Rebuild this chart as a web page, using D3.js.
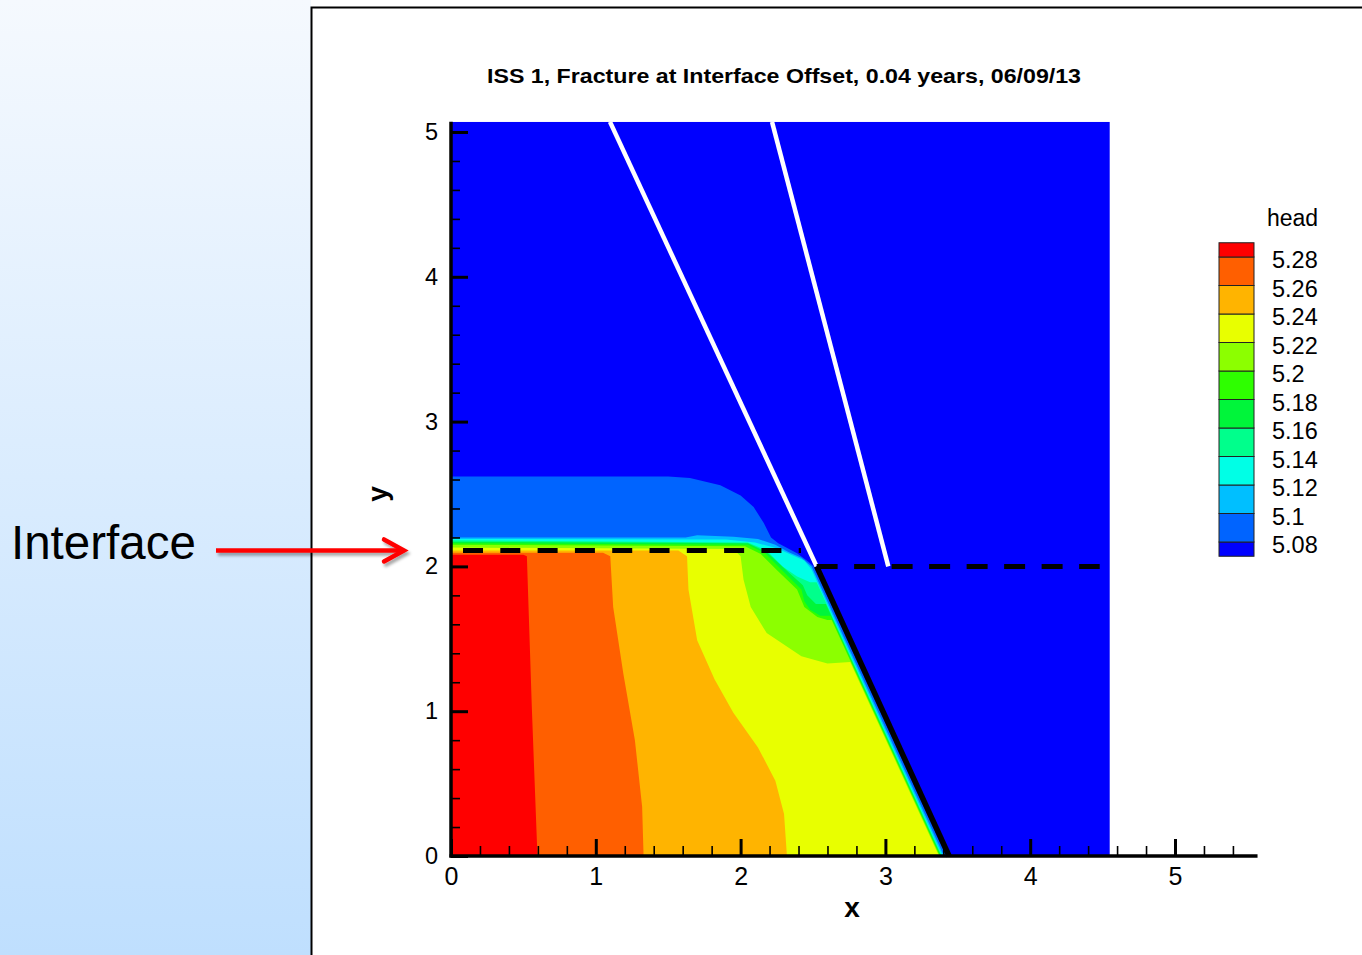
<!DOCTYPE html>
<html>
<head>
<meta charset="utf-8">
<script src="https://cdn.jsdelivr.net/npm/d3@7"></script>
<style>
  html, body { margin: 0; padding: 0; background: #fff; }
  svg { display: block; font-family: "Liberation Sans", Arial, Helvetica, sans-serif; }
</style>
</head>
<body>
<div id="chart"></div>
<script>
const WIDTH = 1362;
const HEIGHT = 955;

// contour levels of head and the fill colours (COLORS[0] is below the first level)
const LEVELS = [5.08, 5.1, 5.12, 5.14, 5.16, 5.18, 5.2, 5.22, 5.24, 5.26, 5.28];
const COLORS = ['#0000ff', '#0064ff', '#00bfff', '#00ffe6', '#00ff8c', '#00f53a',
                '#2eff00', '#8cff00', '#e8ff00', '#ffb400', '#ff5f00', '#ff0000'];

const X_TICKS = [0, 1, 2, 3, 4, 5];
const Y_TICKS = [0, 1, 2, 3, 4, 5];

// model domain (x, y in model units)
const DOMAIN_X = [0, 4.55];
const DOMAIN_Y = [0, 5.07];

// regions where head >= level
const HEAD_508 = [[0,0],[3.42,0],[2.505,2.0],[2.47,2.03],[2.39,2.09],[2.26,2.16],[2.21,2.2],[2.16,2.3],
                  [2.09,2.41],[2.0,2.49],[1.86,2.56],[1.65,2.61],[1.5,2.62],[0,2.62]];
const HEAD_510 = [[0,0],[3.405,0],[2.49,2.0],[2.42,2.06],[2.33,2.1],[2.24,2.15],[2.12,2.19],[1.95,2.205],
                  [1.7,2.215],[1.62,2.2],[0,2.2]];
const HEAD_512 = [[0,0],[3.395,0],[2.489,1.98],[2.44,2.04],[2.35,2.08],[2.25,2.125],[2.1,2.165],[1.9,2.185],[0,2.19]];
const HEAD_514 = [[0,0],[3.39,0],[2.525,1.89],[2.48,1.89],[2.39,1.93],[2.29,2.0],[2.18,2.11],[2.05,2.165],[0,2.18]];
const HEAD_516 = [[0,0],[3.385,0],[2.589,1.74],[2.52,1.74],[2.46,1.8],[2.43,1.87],[2.32,1.97],[2.18,2.1],
                  [2.05,2.16],[0,2.17]];
const HEAD_518 = [[0,0],[3.38,0],[2.621,1.66],[2.55,1.66],[2.48,1.7],[2.44,1.76],[2.42,1.84],[2.3,1.96],
                  [2.17,2.09],[2.05,2.15],[0,2.16]];
const HEAD_520 = [[0,0],[3.375,0],[2.629,1.63],[2.6,1.63],[2.53,1.65],[2.44,1.72],[2.39,1.84],[2.25,1.975],
                  [2.14,2.085],[2.03,2.14],[0,2.15]];
const HEAD_522 = [[0,0],[3.37,0],[2.757,1.34],[2.6,1.33],[2.42,1.38],[2.18,1.54],[2.07,1.72],[2.02,1.91],
                  [2.0,2.07],[1.95,2.12],[0,2.13]];
const HEAD_524 = [[0,0],[2.32,0],[2.3,0.29],[2.24,0.52],[2.12,0.75],[1.95,0.99],[1.82,1.22],[1.7,1.49],
                  [1.64,1.84],[1.63,2.07],[1.57,2.11],[0,2.11]];
const HEAD_526 = [[0,0],[1.33,0],[1.32,0.34],[1.27,0.8],[1.19,1.26],[1.12,1.72],[1.1,2.07],[1.05,2.095],[0,2.095]];
const HEAD_528 = [[0,0],[0.597,0],[0.558,1.03],[0.524,2.07],[0.5,2.08],[0,2.08]];

const BANDS = [HEAD_508, HEAD_510, HEAD_512, HEAD_514, HEAD_516, HEAD_518,
               HEAD_520, HEAD_522, HEAD_524, HEAD_526, HEAD_528];

// lines
const FRACTURE = [[2.525, 2.0], [3.44, 0]];
const FAULT_A = [[1.098, 5.07], [2.525, 2.0]];
const FAULT_B = [[2.217, 5.07], [3.02, 2.0]];
const INTERFACE_LEFT = [[0.083, 2.11], [2.417, 2.11]];
const INTERFACE_RIGHT = [[2.525, 2.0], [4.48, 2.0]];

const svg = d3.select('#chart')
  .append('svg')
  .attr('width', WIDTH)
  .attr('height', HEIGHT);

const defs = svg.append('defs');

const grad = defs.append('linearGradient')
  .attr('id', 'panel')
  .attr('x1', 0).attr('y1', 0).attr('x2', 0).attr('y2', 1);
grad.append('stop').attr('offset', '0%').attr('stop-color', '#f5f9fe');
grad.append('stop').attr('offset', '100%').attr('stop-color', '#bfdffe');

defs.append('filter')
  .attr('id', 'shadow')
  .attr('x', '-10%').attr('y', '-50%').attr('width', '130%').attr('height', '250%')
  .append('feDropShadow')
  .attr('dx', 2).attr('dy', 3).attr('stdDeviation', 1.5)
  .attr('flood-color', '#000').attr('flood-opacity', 0.35);

// left slide panel and frame
svg.append('rect')
  .attr('x', 0).attr('y', 0)
  .attr('width', 311).attr('height', HEIGHT)
  .attr('fill', 'url(#panel)');

svg.append('path')
  .attr('d', 'M311.5,' + HEIGHT + 'V7.5H' + WIDTH)
  .attr('fill', 'none')
  .attr('stroke', '#000')
  .attr('stroke-width', 2);

// scales (equal aspect)
const x = d3.scaleLinear().domain([0, 5]).range([451, 1175]);
const y = d3.scaleLinear().domain([0, 5]).range([856, 132]);

// "Interface" annotation
svg.append('text')
  .attr('x', 11).attr('y', 559)
  .attr('font-size', 47.5)
  .attr('fill', '#000')
  .text('Interface');

const arrowY = y(INTERFACE_LEFT[0][1]);
const arrow = svg.append('g')
  .attr('filter', 'url(#shadow)')
  .attr('fill', 'none')
  .attr('stroke', '#ff0000')
  .attr('stroke-width', 4.5);
arrow.append('line')
  .attr('x1', 216).attr('x2', 402)
  .attr('y1', arrowY).attr('y2', arrowY);
arrow.append('path')
  .attr('d', 'M384,' + (arrowY - 11) + 'L404,' + arrowY + 'L384,' + (arrowY + 11))
  .attr('stroke-linecap', 'round')
  .attr('stroke-linejoin', 'miter');

// title
svg.append('text')
  .attr('x', 784).attr('y', 83)
  .attr('text-anchor', 'middle')
  .attr('font-size', 20.5)
  .attr('font-weight', 'bold')
  .attr('textLength', 594)
  .attr('lengthAdjust', 'spacingAndGlyphs')
  .text('ISS 1, Fracture at Interface Offset, 0.04 years, 06/09/13');

// plot area
defs.append('clipPath')
  .attr('id', 'domain')
  .append('rect')
  .attr('x', x(DOMAIN_X[0])).attr('y', y(DOMAIN_Y[1]))
  .attr('width', x(DOMAIN_X[1]) - x(DOMAIN_X[0]))
  .attr('height', y(DOMAIN_Y[0]) - y(DOMAIN_Y[1]));

const plot = svg.append('g').attr('clip-path', 'url(#domain)');

plot.append('rect')
  .attr('x', x(DOMAIN_X[0])).attr('y', y(DOMAIN_Y[1]))
  .attr('width', x(DOMAIN_X[1]) - x(DOMAIN_X[0]))
  .attr('height', y(DOMAIN_Y[0]) - y(DOMAIN_Y[1]))
  .attr('fill', COLORS[0]);

const line = d3.line().x(d => x(d[0])).y(d => y(d[1]));

plot.selectAll('path.band')
  .data(BANDS)
  .enter()
  .append('path')
  .attr('class', 'band')
  .attr('d', d => line(d) + 'Z')
  .attr('fill', (d, i) => COLORS[i + 1]);

// faults (white), interface (dashed), fracture (black)
plot.selectAll('path.fault')
  .data([FAULT_A, FAULT_B])
  .enter()
  .append('path')
  .attr('class', 'fault')
  .attr('d', line)
  .attr('stroke', '#fff')
  .attr('stroke-width', 4.5)
  .attr('fill', 'none');

svg.append('path')
  .attr('d', line(INTERFACE_LEFT))
  .attr('stroke', '#000')
  .attr('stroke-width', 5)
  .attr('stroke-dasharray', '20,17.3')
  .attr('fill', 'none');

svg.append('path')
  .attr('d', line(INTERFACE_RIGHT))
  .attr('stroke', '#000')
  .attr('stroke-width', 5)
  .attr('stroke-dasharray', '21,16.5')
  .attr('fill', 'none');

svg.append('path')
  .attr('d', line(FRACTURE))
  .attr('stroke', '#000')
  .attr('stroke-width', 5.5)
  .attr('fill', 'none');

// axes
const minorX = d3.range(0, 5.5, 0.2).filter(v => Math.abs(v - Math.round(v)) > 1e-6);
const minorY = d3.range(0, 5.01, 0.2).filter(v => Math.abs(v - Math.round(v)) > 1e-6);

const xAxis = svg.append('g')
  .attr('transform', 'translate(0,' + y(0) + ')')
  .call(d3.axisBottom(x).tickValues(X_TICKS).tickSize(-17).tickPadding(11).tickFormat(d3.format('d')));
const xMinor = svg.append('g')
  .attr('transform', 'translate(0,' + y(0) + ')')
  .call(d3.axisBottom(x).tickValues(minorX).tickSize(-10).tickFormat(''));

const yAxis = svg.append('g')
  .attr('transform', 'translate(' + x(0) + ',0)')
  .call(d3.axisLeft(y).tickValues(Y_TICKS).tickSize(-17).tickPadding(13).tickFormat(d3.format('d')));
const yMinor = svg.append('g')
  .attr('transform', 'translate(' + x(0) + ',0)')
  .call(d3.axisLeft(y).tickValues(minorY).tickSize(-9).tickFormat(''));

[xAxis, xMinor, yAxis, yMinor].forEach(g => g.select('.domain').remove());
xAxis.selectAll('line').attr('stroke-width', 3);
yAxis.selectAll('line').attr('stroke-width', 3);
xMinor.selectAll('line').attr('stroke-width', 1.6);
yMinor.selectAll('line').attr('stroke-width', 1.6);
xAxis.selectAll('text').attr('font-size', 25).attr('font-family', '"Liberation Sans", Arial, sans-serif');
yAxis.selectAll('text').attr('font-size', 23.5).attr('font-family', '"Liberation Sans", Arial, sans-serif');

svg.append('line')
  .attr('x1', x(0)).attr('x2', x(0))
  .attr('y1', y(0) + 1.5).attr('y2', y(DOMAIN_Y[1]))
  .attr('stroke', '#000').attr('stroke-width', 3.5);
svg.append('line')
  .attr('x1', x(0) - 1.5).attr('x2', x(5.57))
  .attr('y1', y(0)).attr('y2', y(0))
  .attr('stroke', '#000').attr('stroke-width', 3.5);

svg.append('text')
  .attr('x', x(2.77)).attr('y', 917)
  .attr('text-anchor', 'middle')
  .attr('font-size', 28).attr('font-weight', 'bold')
  .text('x');
svg.append('text')
  .attr('transform', 'translate(387,' + y(2.5) + ') rotate(-90)')
  .attr('text-anchor', 'middle')
  .attr('font-size', 28).attr('font-weight', 'bold')
  .text('y');

// legend
const legendY = d3.scaleLinear().domain([LEVELS[LEVELS.length - 1], LEVELS[0]]).range([257, 542]);
const half = 14.25;
const legend = svg.append('g').attr('id', 'legend');

legend.selectAll('rect')
  .data(COLORS)
  .enter()
  .append('rect')
  .attr('x', 1219)
  .attr('width', 35)
  .attr('y', (d, i) => i === COLORS.length - 1 ? legendY(LEVELS[i - 1]) - half : legendY(LEVELS[i]))
  .attr('height', (d, i) => {
    if (i === 0) return half;
    if (i === COLORS.length - 1) return half;
    return legendY(LEVELS[i - 1]) - legendY(LEVELS[i]);
  })
  .attr('fill', d => d)
  .attr('stroke', '#222')
  .attr('stroke-width', 1);

legend.selectAll('text.lab')
  .data(LEVELS)
  .enter()
  .append('text')
  .attr('class', 'lab')
  .attr('x', 1272)
  .attr('y', d => legendY(d) + 11)
  .attr('font-size', 23.5)
  .text(d => String(d));

legend.append('text')
  .attr('x', 1267).attr('y', 226)
  .attr('font-size', 23)
  .text('head');
</script>
</body>
</html>
